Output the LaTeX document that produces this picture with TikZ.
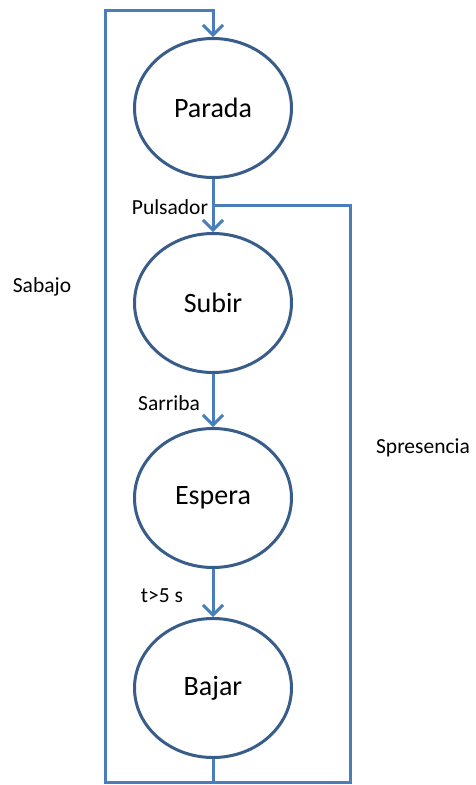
\documentclass[tikz,border=0pt]{standalone}
\usepackage{fontspec}
\setmainfont{Carlito}
\usetikzlibrary{shapes.geometric,arrows.meta}
\definecolor{linea}{RGB}{74,126,187}
\definecolor{borde}{RGB}{56,93,138}
\tikzset{
  estado/.style={ellipse,draw=borde,line width=3pt,fill=white,minimum width=157pt,minimum height=139pt,inner sep=0pt,font=\fontsize{28}{30}\selectfont},
  flujo/.style={draw=linea,line width=3pt},
  flecha/.style={flujo,-{Straight Barb[length=10pt,width=20pt,line width=3pt]}},
  etiq/.style={font=\fontsize{21.5}{24}\selectfont}
}

\begin{document}
\begin{tikzpicture}[x=1pt,y=-1pt]
\useasboundingbox (0,0) rectangle (475,785);
% estados
\node[estado] (parada) at (213,108) {Parada};
\node[estado] (subir) at (213,303) {Subir};
\node[estado] (espera) at (213,498) {Espera};
\node[estado] (bajar) at (213,688) {Bajar};
% esquinas
\coordinate (ti) at (105,10);
\coordinate (tc) at (213,10);
\coordinate (bi) at (105,782);
\coordinate (bc) at (213,782);
\coordinate (bd) at (350,782);
\coordinate (td) at (350,205);
\coordinate (pj) at (213,205);
% transiciones
\draw[flecha](parada)--(subir);
\draw[flecha](subir)--(espera);
\draw[flecha](espera)--(bajar);
\draw[flujo](bajar)--(bc)--(bd)--(td)--(pj);
\draw[flecha](bc)--(bi)--(ti)--(tc)--(parada);
% etiquetas
\node[etiq] (pulsador) at (170,207) {Pulsador};
\node[etiq] (sarriba) at (169,403) {Sarriba};
\node[etiq] (tiempo) at (162,596) {t>5 s};
\node[etiq] (sabajo) at (42,287) {Sabajo};
\node[etiq] (spresencia) at (423,448) {Spresencia};
\end{tikzpicture}
\end{document}
